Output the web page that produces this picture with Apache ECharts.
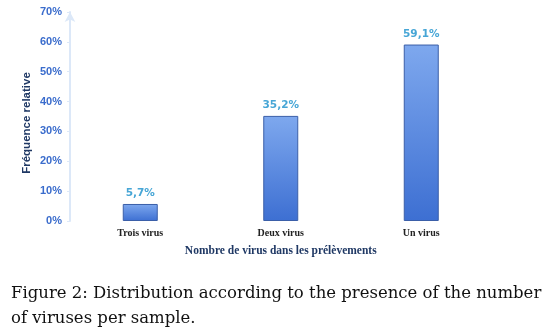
<!DOCTYPE html>
<html><head><meta charset="utf-8">
<script src="https://cdn.jsdelivr.net/npm/echarts@6/dist/echarts.min.js"></script>
<style>html,body{margin:0;padding:0;background:#fff}#c{width:550px;height:334px}</style>
</head><body><div id="c"></div>
<script>
const categories = ["Trois virus", "Deux virus", "Un virus"];
const values = [5.7, 35.2, 59.1];
const yTicks = [0, 10, 20, 30, 40, 50, 60, 70];
const chart = echarts.init(document.getElementById('c'));
chart.setOption({
  animation: false,
  title: [
    {text: "Figure 2: Distribution according to the presence of the number", left: 6, top: 280,
     textStyle: {fontFamily: "DejaVu Serif", fontWeight: "normal", fontSize: 16.5, color: "#111"}},
    {text: "of viruses per sample.", left: 6, top: 305,
     textStyle: {fontFamily: "DejaVu Serif", fontWeight: "normal", fontSize: 16.5, color: "#111"}}
  ],
  graphic: [{
    type: 'text', x: 27, y: 123, rotation: Math.PI / 2,
    style: {text: "Fréquence relative", fontFamily: "Liberation Sans", fontWeight: "bold", fontSize: 11.5,
      fill: "#1f3864", align: 'center', verticalAlign: 'middle'}
  }],
  grid: {left: 70, right: 58.5, top: 12, bottom: 113, containLabel: false},
  xAxis: {
    type: 'category', data: categories,
    axisLine: {show: false}, axisTick: {show: false},
    axisLabel: {fontFamily: "Liberation Serif", fontWeight: "bold", fontSize: 10, color: "#222", margin: 7},
    name: "Nombre de virus dans les prélèvements", nameLocation: 'middle', nameGap: 24,
    nameTextStyle: {fontFamily: "Liberation Serif", fontWeight: "bold", fontSize: 11.5, color: "#1f3864"}
  },
  yAxis: {
    type: 'value', min: 0, max: 70, interval: 10,
    axisLine: {show: true, lineStyle: {color: "#dce8f8", width: 2}, symbol: ['none', 'arrow'], symbolSize: [8, 10]},
    axisTick: {show: true, length: 3, lineStyle: {color: "#dce8f8"}},
    splitLine: {show: false},
    axisLabel: {formatter: v => yTicks.includes(v) ? v + "%" : "", fontFamily: "Liberation Sans", fontWeight: "bold", fontSize: 11, color: "#3a6ccc", margin: 8}
  },
  series: [{
    type: 'bar', data: values, barWidth: 35,
    itemStyle: {
      color: new echarts.graphic.LinearGradient(0, 0, 0, 1, [
        {offset: 0, color: "#7ea8ee"}, {offset: 1, color: "#3d6fd2"}]),
      borderColor: "#3b5fa8", borderWidth: 1
    },
    label: {show: true, position: 'top', formatter: p => String(p.value).replace('.', ',') + "%",
      fontFamily: "DejaVu Sans", fontWeight: "bold", fontSize: 10.5, color: "#47a6d6", distance: 5}
  }]
});
</script></body></html>
